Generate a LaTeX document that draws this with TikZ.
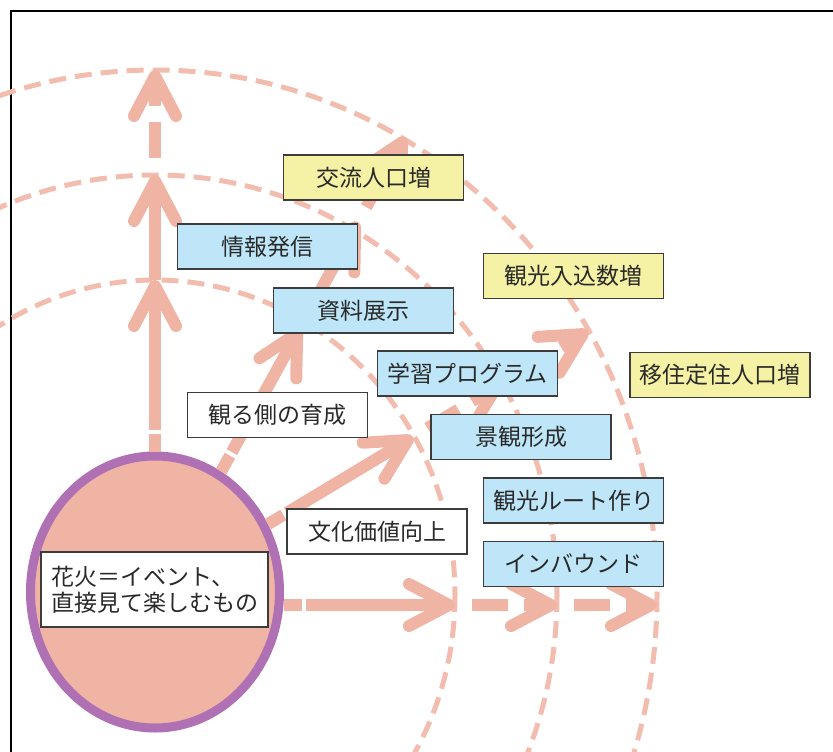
\documentclass[tikz,border=0pt]{standalone}
\usepackage{fontspec}
\setmainfont{Noto Sans CJK JP}
\usetikzlibrary{positioning, shapes.geometric, arrows.meta}

\definecolor{arrowpink}{HTML}{F0B4A5}
\definecolor{ringpink}{HTML}{F2BCAE}
\definecolor{rimpurple}{HTML}{B070B4}
\definecolor{boxblue}{HTML}{BEE6F8}
\definecolor{boxyellow}{HTML}{F5F2A5}
\definecolor{edgegray}{HTML}{3C3C3C}
\definecolor{textgray}{HTML}{2A2A2A}

\begin{document}
\begin{tikzpicture}[x=1pt, y=-1pt,
  ring/.style={ringpink, line width=5pt, dash pattern=on 17pt off 9pt},
  flow/.style={arrowpink, line width=12pt, -{Straight Barb[length=40pt, width=42pt, line width=12pt, round]}},
  firstleg/.style={flow, dash pattern=on 18pt off 4pt on 500pt off 1pt},
  dashleg/.style={flow, dash pattern=on 0pt off 17pt on 36pt off 16pt on 200pt off 1pt},
  box/.style={draw=edgegray, line width=1.5pt, minimum width=180pt, minimum height=45pt, text=textgray, font=\fontsize{23pt}{26pt}\selectfont},
  bbox/.style={box, fill=boxblue},
  ybox/.style={box, fill=boxyellow},
  wbox/.style={box, fill=white}]

\useasboundingbox (0,0) rectangle (833,752);
\clip (0,0) rectangle (833,752);
\draw[line width=2pt] (11,752) -- (11,11) -- (833,11);

\coordinate (ctr) at (155,595);
\draw[ring] (ctr) ellipse [x radius=300, y radius=315];
\draw[ring] (ctr) ellipse [x radius=402, y radius=420];
\draw[ring] (ctr) ellipse [x radius=502, y radius=525];

\coordinate (v1) at (155,280);
\coordinate (v2) at (155,175);
\coordinate (v3) at (155,70);
\coordinate (u1) at (300,328);
\coordinate (u2) at (358,222);
\coordinate (u3) at (405,137);
\coordinate (l1) at (413,437);
\coordinate (l2) at (502,383);
\coordinate (l3) at (588,331);
\coordinate (h1) at (455,605);
\coordinate (h2) at (557,605);
\coordinate (h3) at (657,605);

\node[ellipse, draw=rimpurple, line width=9pt, fill=arrowpink, minimum width=249pt, minimum height=272pt] (fire) at (155,592) {};

\draw[firstleg] (fire) -- (v1);
\draw[flow] (v1) -- (v2);
\draw[dashleg] (v2) -- (v3);
\draw[firstleg] (fire) -- (u1);
\draw[flow] (u1) -- (u2);
\draw[dashleg] (u2) -- (u3);
\draw[firstleg] (fire) -- (l1);
\draw[dashleg] (l1) -- (l2);
\draw[dashleg] (l2) -- (l3);
\draw[firstleg] (fire.east |- h1) -- (h1);
\draw[dashleg] (h1) -- (h2);
\draw[dashleg] (h2) -- (h3);

\node[wbox, minimum width=227pt, minimum height=75pt, align=left] (txt) at (154.5,589.5) {花火＝イベント、\\直接見て楽しむもの};

\node[ybox] (koryu) at (373.5,177.5) {交流人口増};
\node[bbox] (joho) at (267.5,246.5) {情報発信};
\node[bbox] (shiryo) at (363.5,310.5) {資料展示};
\node[ybox] (kanko) at (573.5,276) {観光入込数増};
\node[bbox] (gakushu) at (467.5,373.5) {学習プログラム};
\node[ybox] (iju) at (720,375) {移住定住人口増};
\node[wbox] (miru) at (277.5,415) {観る側の育成};
\node[bbox] (keikan) at (521,437) {景観形成};
\node[bbox] (route) at (573.5,500.5) {観光ルート作り};
\node[wbox] (bunka) at (377,531.5) {文化価値向上};
\node[bbox, below=17pt of route] (inbound) {インバウンド};
\end{tikzpicture}
\end{document}
